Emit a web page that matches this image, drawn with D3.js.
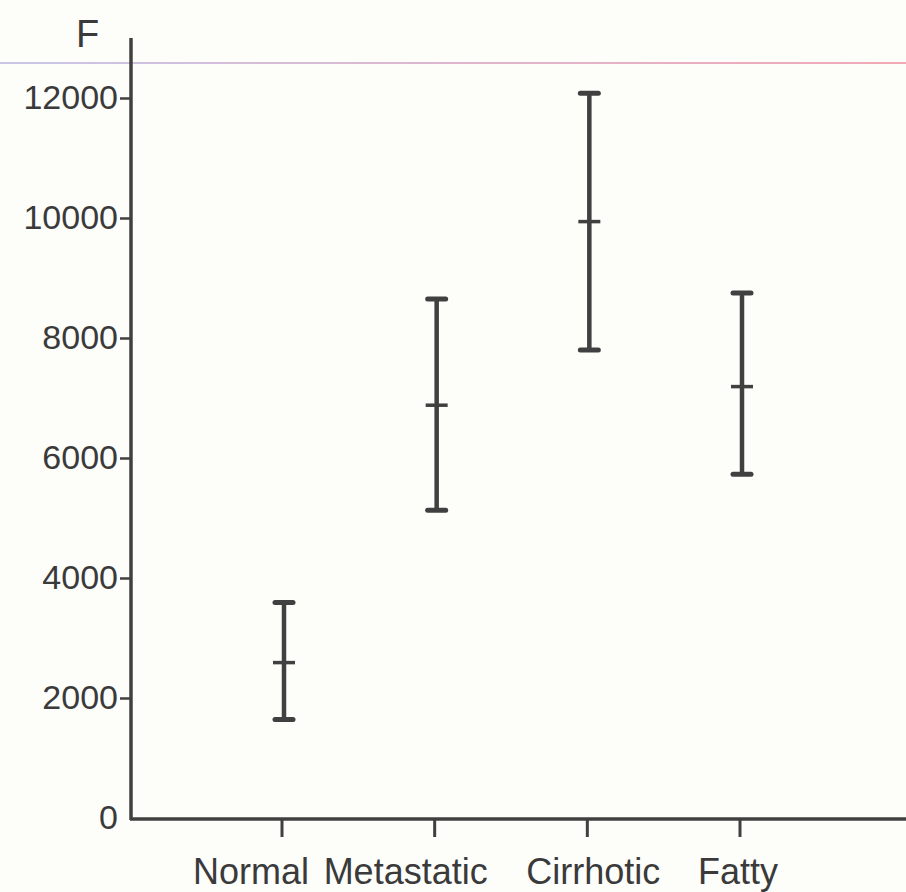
<!DOCTYPE html>
<html>
<head>
<meta charset="utf-8">
<script src="https://cdn.jsdelivr.net/npm/d3@7"></script>
<style>
  body { margin: 0; background: #fdfdfa; }
  svg { display: block; }
  text { font-family: "Liberation Sans", Arial, sans-serif; fill: #3a3a3a; }
</style>
</head>
<body>
<div id="chart"></div>
<script>
const categories = ["Normal", "Metastatic", "Cirrhotic", "Fatty"];
const means = [2590, 6880, 9940, 7190];
const lows = [1640, 5130, 7800, 5730];
const highs = [3590, 8650, 12080, 8750];
const yTicks = [0, 2000, 4000, 6000, 8000, 10000, 12000];

const width = 906,
  height = 892;
const ink = "#404040";

const svg = d3
  .select("#chart")
  .append("svg")
  .attr("width", width)
  .attr("height", height);

// faint scan line across the top
const grad = svg.append("defs").append("linearGradient").attr("id", "scan");
grad.append("stop").attr("offset", "0%").attr("stop-color", "#c9c6e6");
grad.append("stop").attr("offset", "100%").attr("stop-color", "#f2a8b6");
svg
  .append("rect")
  .attr("x", 0)
  .attr("y", 62)
  .attr("width", width)
  .attr("height", 2)
  .attr("fill", "url(#scan)");

const y = d3.scaleLinear().domain([0, 13000]).range([818, 38]);
const x = d3.scalePoint().domain(categories).range([284, 742]);
const axisX = 131;

// y axis
const yAxis = svg
  .append("g")
  .attr("transform", `translate(${axisX},0)`)
  .call(
    d3.axisLeft(y).tickValues(yTicks).tickFormat(d3.format("d"))
      .tickSize(11).tickSizeOuter(0).tickPadding(2)
  );
yAxis.attr("font-size", null).attr("font-family", null);
yAxis.select(".domain").remove();
yAxis.selectAll(".tick line").attr("stroke", ink).attr("stroke-width", 2.5)
  .filter((d) => d === 0).remove();
yAxis.selectAll(".tick text")
  .style("font-size", "34px")
  .attr("fill", "#3a3a3a");

svg
  .append("line")
  .attr("x1", axisX)
  .attr("x2", axisX)
  .attr("y1", y.range()[1])
  .attr("y2", y(0) + 2)
  .attr("stroke", ink)
  .attr("stroke-width", 3.5);

// x axis
svg
  .append("line")
  .attr("x1", axisX - 1)
  .attr("x2", width)
  .attr("y1", y(0) + 1)
  .attr("y2", y(0) + 1)
  .attr("stroke", ink)
  .attr("stroke-width", 3.5);

svg
  .selectAll(".xtick")
  .data(categories)
  .enter()
  .append("line")
  .attr("x1", (d) => x(d) - 2)
  .attr("x2", (d) => x(d) - 2)
  .attr("y1", y(0) + 2)
  .attr("y2", y(0) + 19)
  .attr("stroke", ink)
  .attr("stroke-width", 3);

// labels sit a little left of their ticks in the original, where space is tight
const labelNudge = { Normal: -33, Metastatic: -31, Cirrhotic: 4, Fatty: -4 };
svg
  .selectAll(".xlabel")
  .data(categories)
  .enter()
  .append("text")
  .attr("x", (d) => x(d) + labelNudge[d])
  .attr("y", 884)
  .attr("text-anchor", "middle")
  .style("font-size", "36px")
  .text((d) => d);

// axis title
svg.append("text").attr("x", 76).attr("y", 47).style("font-size", "38px").text("F");

// error bars
const bars = svg
  .selectAll(".bar")
  .data(categories.map((c, i) => ({ c, lo: lows[i], hi: highs[i], m: means[i] })))
  .enter()
  .append("g");

bars
  .append("line")
  .attr("x1", (d) => x(d.c))
  .attr("x2", (d) => x(d.c))
  .attr("y1", (d) => y(d.hi))
  .attr("y2", (d) => y(d.lo))
  .attr("stroke", ink)
  .attr("stroke-width", 4.5);

bars
  .selectAll(".cap")
  .data((d) => [d.hi, d.lo].map((v) => ({ c: d.c, v })))
  .enter()
  .append("line")
  .attr("x1", (d) => x(d.c) - 9)
  .attr("x2", (d) => x(d.c) + 9)
  .attr("y1", (d) => y(d.v))
  .attr("y2", (d) => y(d.v))
  .attr("stroke", ink)
  .attr("stroke-width", 5)
  .attr("stroke-linecap", "round");

bars
  .append("line")
  .attr("x1", (d) => x(d.c) - 11)
  .attr("x2", (d) => x(d.c) + 11)
  .attr("y1", (d) => y(d.m))
  .attr("y2", (d) => y(d.m))
  .attr("stroke", ink)
  .attr("stroke-width", 3.5);
</script>
</body>
</html>
